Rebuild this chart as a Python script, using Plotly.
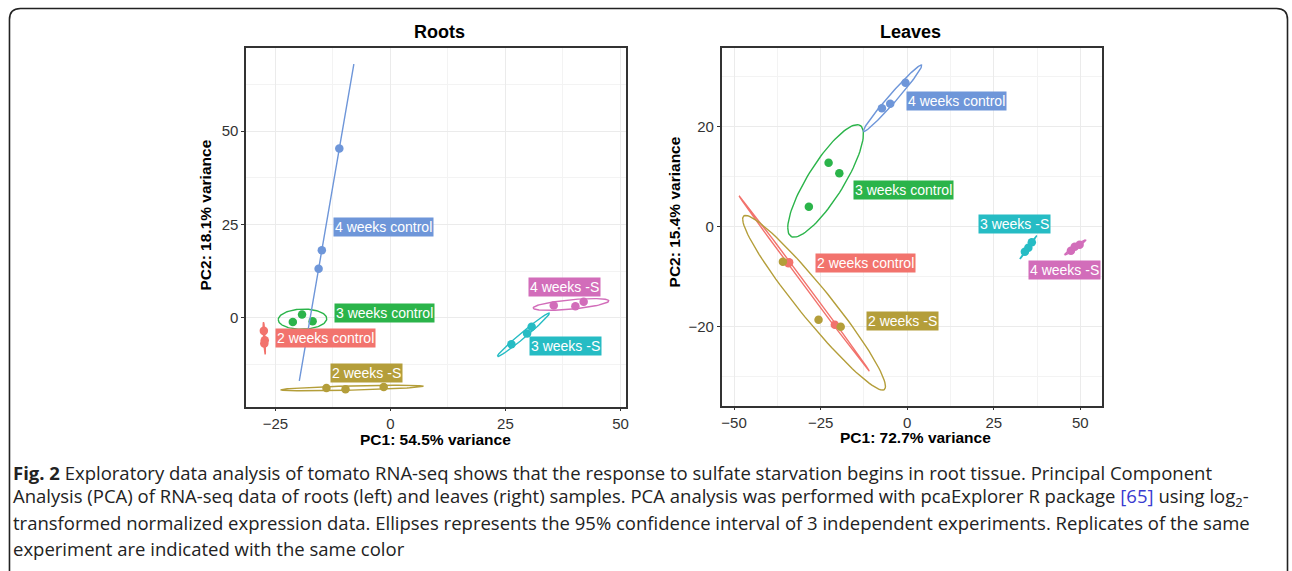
import numpy as np
import plotly.graph_objects as go

W, H = 1292, 571

groups = ["2 weeks control", "2 weeks -S", "3 weeks control",
          "3 weeks -S", "4 weeks control", "4 weeks -S"]
colors = ["#F2736D", "#B49E3A", "#2BB44A", "#26BCC4", "#6E96D9", "#D26DBA"]

# Roots samples (3 replicates per group)
roots_group = [g for g in groups for _ in range(3)]
roots_pc1 = [-27.5, -27.3, -27.4,
             -13.9, -9.75, -1.45,
             -21.2, -19.2, -16.9,
             26.3, 29.7, 30.7,
             -11.1, -14.9, -15.6,
             35.5, 40.2, 42.0]
roots_pc2 = [-3.5, -6.0, -6.9,
             -18.8, -19.1, -18.5,
             -1.1, 0.9, -0.9,
             -7.1, -4.2, -2.4,
             45.3, 18.1, 13.1,
             3.3, 3.1, 4.3]

# Leaves samples
leaves_group = [g for g in groups for _ in range(3)]
leaves_pc1 = [-34.1, -34.3, -20.9,
              -35.9, -25.6, -19.2,
              -22.7, -19.6, -28.4,
              34.0, 35.0, 36.0,
              -0.5, -4.9, -7.3,
              47.3, 48.4, 49.8]
leaves_pc2 = [-7.1, -7.3, -19.6,
              -7.0, -18.6, -20.0,
              12.8, 10.7, 4.0,
              -5.0, -4.2, -3.1,
              28.8, 24.6, 23.7,
              -4.8, -4.0, -3.6]

roots_x_ticks = [-25, 0, 25, 50]
roots_y_ticks = [0, 25, 50]
leaves_x_ticks = [-50, -25, 0, 25, 50]
leaves_y_ticks = [-20, 0, 20]

# label placement (ggrepel-like), in data units
roots_label_pos = {"2 weeks control": (-14.2, -5.35), "2 weeks -S": (-5.1, -14.9),
                   "3 weeks control": (-1.3, 1.2), "3 weeks -S": (38.1, -7.5),
                   "4 weeks control": (-1.45, 24.3), "4 weeks -S": (37.9, 8.2)}
leaves_label_pos = {"2 weeks control": (-12.1, -7.3), "2 weeks -S": (-1.25, -18.9),
                    "3 weeks control": (-0.95, 7.4), "3 weeks -S": (31.1, 0.53),
                    "4 weeks control": (14.2, 25.1), "4 weeks -S": (45.4, -8.7)}

ED = np.sqrt(-2 * np.log(0.05))  # sqrt(qchisq(0.95, 2))
theta = np.linspace(-np.pi, np.pi, 101)
circle = np.column_stack([np.cos(theta), np.sin(theta)])


def ellipse(x, y):
    pts = np.column_stack([x, y])
    sigma = np.cov(pts, rowvar=False)
    L = np.linalg.cholesky(sigma)
    e = circle @ L.T * ED + pts.mean(axis=0)
    return e[:, 0], e[:, 1]


fig = go.Figure()

def add_panel(gl, px, py, xa, ya, label_pos):
    gl = np.array(gl); px = np.array(px); py = np.array(py)
    for g, c in zip(groups, colors):
        m = gl == g
        ex, ey = ellipse(px[m], py[m])
        fig.add_trace(go.Scatter(x=ex, y=ey, mode="lines", line=dict(color=c, width=1.4),
                                 xaxis=xa, yaxis=ya, showlegend=False, hoverinfo="skip"))
        fig.add_trace(go.Scatter(x=px[m], y=py[m], mode="markers",
                                 marker=dict(color=c, size=8.5), xaxis=xa, yaxis=ya,
                                 showlegend=False, name=g))
    for g, c in zip(groups, colors):
        lx, ly = label_pos[g]
        fig.add_annotation(x=lx, y=ly, xref=xa, yref=ya, text=g, showarrow=False,
                           font=dict(family="Liberation Sans, Arial", size=14, color="white"),
                           bgcolor=c, borderpad=1, xanchor="center", yanchor="middle")

add_panel(roots_group, roots_pc1, roots_pc2, "x", "y", roots_label_pos)
add_panel(leaves_group, leaves_pc1, leaves_pc2, "x2", "y2", leaves_label_pos)

def px2x(p):
    return p / W

def px2y(p):
    return 1 - p / H

axis_common = dict(showline=True, linecolor="#333333", linewidth=1.5, mirror=True,
                   showgrid=True, gridcolor="#ebebeb", gridwidth=1, zeroline=False,
                   ticks="outside", ticklen=3, tickcolor="#333333",
                   tickfont=dict(family="Liberation Sans, Arial", size=15, color="#333333"))

fig.update_layout(
    width=W, height=H, margin=dict(l=0, r=0, t=0, b=0),
    paper_bgcolor="white", plot_bgcolor="white",
    xaxis=dict(domain=[px2x(246.7), px2x(627)], range=[-31.35, 51.1],
               tickvals=roots_x_ticks, minor=dict(dtick=12.5, tick0=0, showgrid=True,
                                                  gridcolor="#f3f3f3", ticks=""),
               anchor="y", **axis_common),
    yaxis=dict(domain=[px2y(406.7), px2y(47.7)], range=[-23.8, 72.3],
               tickvals=roots_y_ticks, minor=dict(dtick=12.5, tick0=0, showgrid=True,
                                                  gridcolor="#f3f3f3", ticks=""),
               anchor="x", **axis_common),
    xaxis2=dict(domain=[px2x(723.3), px2x(1105)], range=[-53.6, 56.4],
                tickvals=leaves_x_ticks, minor=dict(dtick=12.5, tick0=0, showgrid=True,
                                                    gridcolor="#f3f3f3", ticks=""),
                anchor="y2", **axis_common),
    yaxis2=dict(domain=[px2y(405.7), px2y(48.3)], range=[-35.8, 35.7],
                tickvals=leaves_y_ticks, minor=dict(dtick=10, tick0=0, showgrid=True,
                                                    gridcolor="#f3f3f3", ticks=""),
                anchor="x2", **axis_common),
)

bold = dict(family="Liberation Sans, Arial", color="black")
texts = [
    ("<b>Roots</b>", 441, 32, 18, 0),
    ("<b>Leaves</b>", 913, 32, 18, 0),
    ("<b>PC1: 54.5% variance</b>", 437, 440, 15.5, 0),
    ("<b>PC1: 72.7% variance</b>", 918, 437, 15.5, 0),
    ("<b>PC2: 18.1% variance</b>", 205, 215, 15.5, -90),
    ("<b>PC2: 15.4% variance</b>", 676, 212, 15.5, -90),
]
for t, x, y, s, ang in texts:
    fig.add_annotation(x=px2x(x), y=px2y(y), xref="paper", yref="paper", text=t,
                       showarrow=False, font=dict(size=s, **bold), textangle=ang,
                       xanchor="center", yanchor="middle")

caption_lines = [
    "<b>Fig. 2</b> Exploratory data analysis of tomato RNA-seq shows that the response to sulfate starvation begins in root tissue. Principal Component",
    "Analysis (PCA) of RNA-seq data of roots (left) and leaves (right) samples. PCA analysis was performed with pcaExplorer R package <span style='color:#3a3ad0'>[65]</span> using log<sub>2</sub>-",
    "transformed normalized expression data. Ellipses represents the 95% confidence interval of 3 independent experiments. Replicates of the same",
    "experiment are indicated with the same color",
]
caption_y = [472, 497, 522.5, 548]
for line, y in zip(caption_lines, caption_y):
    fig.add_annotation(x=px2x(11), y=px2y(y), xref="paper", yref="paper", text=line,
                       showarrow=False, xanchor="left", yanchor="middle",
                       font=dict(family="Open Sans", size=18.5, color="#222222"))

# outer rounded frame
r = 11
x0, x1, y0, y1 = 9.5, 1290.5, 8.5, 580
def P(x, y):
    return f"{x/W:.6f},{1 - y/H:.6f}"
path = (f"M {P(x0, y1)} L {P(x0, y0 + r)} Q {P(x0, y0)} {P(x0 + r, y0)} "
        f"L {P(x1 - r, y0)} Q {P(x1, y0)} {P(x1, y0 + r)} L {P(x1, y1)}")
fig.add_shape(type="path", path=path, xref="paper", yref="paper",
              line=dict(color="#222222", width=1.6))

fig.write_html("out.html", config={"displayModeBar": False},
               post_script="document.body.style.margin='0';document.body.style.overflow='hidden';")
